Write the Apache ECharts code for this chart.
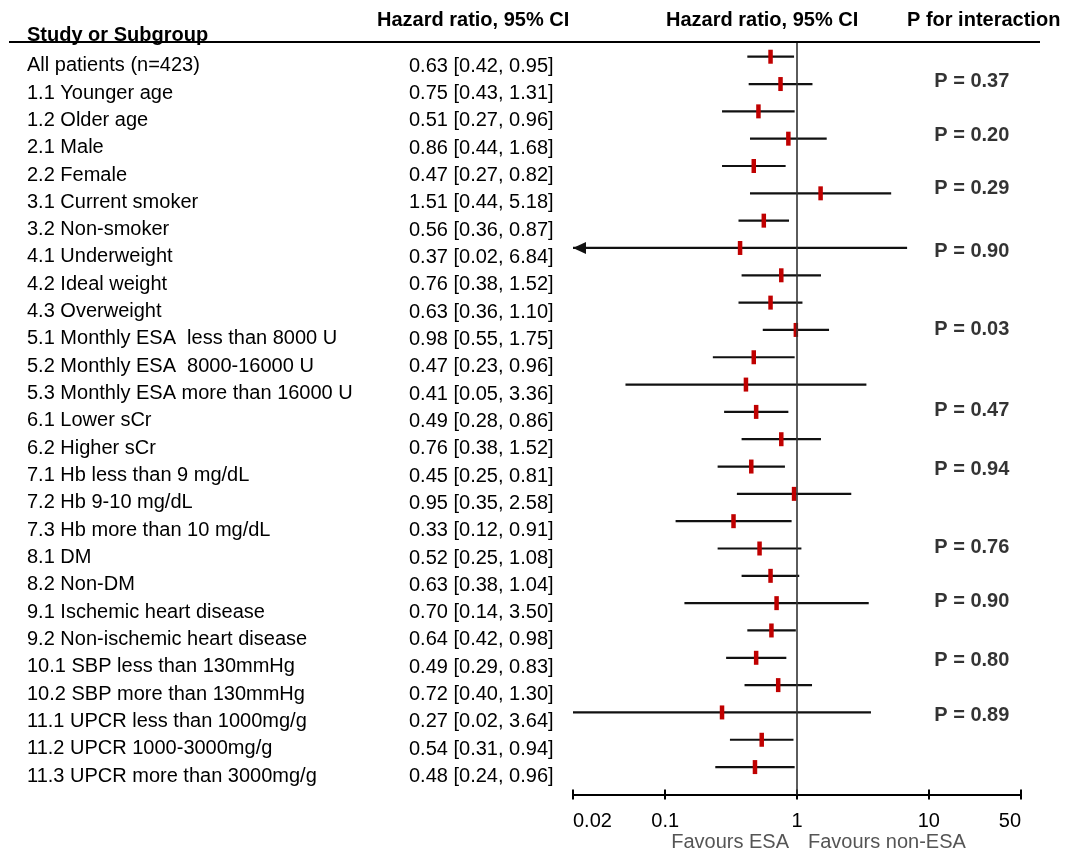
<!DOCTYPE html>
<html>
<head>
<meta charset="utf-8">
<script src="https://cdn.jsdelivr.net/npm/echarts@6/dist/echarts.min.js"></script>
<style>
html,body{margin:0;padding:0;background:#fff;}
#chart{width:1079px;height:851px;}
</style>
</head>
<body>
<div id="chart"></div>
<script>
const names = [
  'All patients (n=423)',
  '1.1 Younger age',
  '1.2 Older age',
  '2.1 Male',
  '2.2 Female',
  '3.1 Current smoker',
  '3.2 Non-smoker',
  '4.1 Underweight',
  '4.2 Ideal weight',
  '4.3 Overweight',
  '5.1 Monthly ESA  less than 8000 U',
  '5.2 Monthly ESA  8000-16000 U',
  '5.3 Monthly ESA more than 16000 U',
  '6.1 Lower sCr',
  '6.2 Higher sCr',
  '7.1 Hb less than 9 mg/dL',
  '7.2 Hb 9-10 mg/dL',
  '7.3 Hb more than 10 mg/dL',
  '8.1 DM',
  '8.2 Non-DM',
  '9.1 Ischemic heart disease',
  '9.2 Non-ischemic heart disease',
  '10.1 SBP less than 130mmHg',
  '10.2 SBP more than 130mmHg',
  '11.1 UPCR less than 1000mg/g',
  '11.2 UPCR 1000-3000mg/g',
  '11.3 UPCR more than 3000mg/g'
];
const hr  = [0.63,0.75,0.51,0.86,0.47,1.51,0.56,0.37,0.76,0.63,0.98,0.47,0.41,0.49,0.76,0.45,0.95,0.33,0.52,0.63,0.70,0.64,0.49,0.72,0.27,0.54,0.48];
const ciLow  = [0.42,0.43,0.27,0.44,0.27,0.44,0.36,0.02,0.38,0.36,0.55,0.23,0.05,0.28,0.38,0.25,0.35,0.12,0.25,0.38,0.14,0.42,0.29,0.40,0.02,0.31,0.24];
const ciHigh = [0.95,1.31,0.96,1.68,0.82,5.18,0.87,6.84,1.52,1.10,1.75,0.96,3.36,0.86,1.52,0.81,2.58,0.91,1.08,1.04,3.50,0.98,0.83,1.30,3.64,0.94,0.96];
const truncatedLowRows = [7];
const pValues = ['0.37','0.20','0.29','0.90','0.03','0.47','0.94','0.76','0.90','0.80','0.89'];
const pRows = [0.915,2.865,4.84,7.13,9.97,12.93,15.12,17.98,19.95,22.11,24.12];
const tickValues = [0.02,0.1,1,10,50];
const tickLabels = ['0.02','0.1','1','10','50'];

const hrText = hr.map((v,i)=> v.toFixed(2)+' ['+ciLow[i].toFixed(2)+', '+ciHigh[i].toFixed(2)+']');
const FONT = '"Liberation Sans", Arial, sans-serif';

function tickLabelFor(v){
  for (let k=0;k<tickValues.length;k++){
    if (Math.abs(Math.log10(v)-Math.log10(tickValues[k]))<1e-6) return tickLabels[k];
  }
  return '';
}

const chart = echarts.init(document.getElementById('chart'), null, {renderer:'canvas'});
const option = {
  animation:false,
  backgroundColor:'#fff',
  textStyle:{fontFamily:FONT},
  grid:{left:573, right:58, top:29.4, height:765, containLabel:false, outerBoundsMode:'none'},
  xAxis:[{
    type:'log', logBase:10, min:0.02, max:50, position:'bottom',
    axisLine:{show:true, onZero:false, lineStyle:{color:'#000', width:2}},
    axisTick:{show:true, inside:false, length:5, lineStyle:{color:'#000', width:2}, customValues:tickValues},
    axisLabel:{show:true, customValues:tickValues, formatter:tickLabelFor, fontSize:20, color:'#000', margin:17,
      fontFamily:FONT, alignMinLabel:'left', alignMaxLabel:'right'},
    splitLine:{show:false}, minorTick:{show:false}
  },{
    type:'log', logBase:10, min:0.02, max:50, position:'bottom',
    axisLine:{show:false, onZero:false},
    axisTick:{show:true, inside:true, length:5, lineStyle:{color:'#000', width:2}, customValues:tickValues},
    axisLabel:{show:false}, splitLine:{show:false}
  }],
  yAxis:[{
    type:'value', inverse:true, min:-1, max:27, interval:1, position:'left',
    axisLine:{show:false}, axisTick:{show:false}, splitLine:{show:false},
    axisLabel:{formatter:v=>names[v]||'', align:'left', margin:546, fontSize:20, color:'#000',
      fontFamily:FONT, verticalAlign:'top', lineHeight:18}
  },{
    type:'value', inverse:true, min:-1, max:27, interval:1, position:'left',
    axisLine:{show:false}, axisTick:{show:false}, splitLine:{show:false},
    axisLabel:{formatter:v=>hrText[v]||'', align:'left', margin:164, fontSize:20, color:'#000',
      fontFamily:FONT, verticalAlign:'top', lineHeight:19}
  }],
  graphic:[
    {type:'text', x:27, y:35, style:{text:'Study or Subgroup', fontSize:20, fontWeight:'bold', fontFamily:FONT, fill:'#000', verticalAlign:'middle', align:'left'}},
    {type:'text', x:377, y:20.5, style:{text:'Hazard ratio, 95% CI', fontSize:20, fontWeight:'bold', fontFamily:FONT, fill:'#000', verticalAlign:'middle', align:'left'}},
    {type:'text', x:666, y:20.5, style:{text:'Hazard ratio, 95% CI', fontSize:20, fontWeight:'bold', fontFamily:FONT, fill:'#000', verticalAlign:'middle', align:'left'}},
    {type:'text', x:907, y:20.5, style:{text:'P for interaction', fontSize:20, fontWeight:'bold', fontFamily:FONT, fill:'#000', verticalAlign:'middle', align:'left'}},
    {type:'line', shape:{x1:9, y1:42, x2:1040, y2:42}, style:{stroke:'#000', lineWidth:2}},
    {type:'text', x:789, y:842, style:{text:'Favours ESA', fontSize:20, fontFamily:FONT, fill:'#555', verticalAlign:'middle', align:'right'}},
    {type:'text', x:808, y:842, style:{text:'Favours non-ESA', fontSize:20, fontFamily:FONT, fill:'#555', verticalAlign:'middle', align:'left'}}
  ],
  series:[{
    type:'custom', name:'CI', xAxisIndex:0, yAxisIndex:0,
    data: hr.map((v,i)=>[ciLow[i], ciHigh[i], i]),
    encode:{x:[0,1], y:2},
    clip:false,
    renderItem:function(params, api){
      const i = api.value(2);
      const a = api.coord([api.value(0), i]);
      const b = api.coord([api.value(1), i]);
      const children = [{type:'line', shape:{x1:a[0], y1:a[1], x2:b[0], y2:b[1]}, style:{stroke:'#111', lineWidth:2.2}}];
      if (truncatedLowRows.indexOf(i) >= 0){
        children.push({type:'polygon', shape:{points:[[a[0],a[1]],[a[0]+13,a[1]-6],[a[0]+13,a[1]+6]]}, style:{fill:'#111'}});
      }
      return {type:'group', children:children};
    },
    markLine:{
      silent:true, symbol:['none','none'], label:{show:false},
      lineStyle:{color:'#333', width:1.6, type:'solid'},
      data:[[{coord:[1,-0.5]},{coord:[1,27]}]]
    },
    z:2
  },{
    type:'scatter', name:'HR', xAxisIndex:0, yAxisIndex:0,
    data: hr.map((v,i)=>[v,i]),
    symbol:'rect', symbolSize:[4.5,14],
    itemStyle:{color:'#c00000', opacity:1},
    z:3
  },{
    type:'scatter', name:'P', xAxisIndex:0, yAxisIndex:0,
    data: pRows.map(r=>[11, r]),
    symbolSize:0,
    label:{show:true, position:'right', distance:0, formatter:p=>'P = '+pValues[p.dataIndex],
      fontSize:20, fontWeight:'bold', color:'#000', fontFamily:FONT},
    z:3
  }]
};
chart.setOption(option);
</script>
</body>
</html>
